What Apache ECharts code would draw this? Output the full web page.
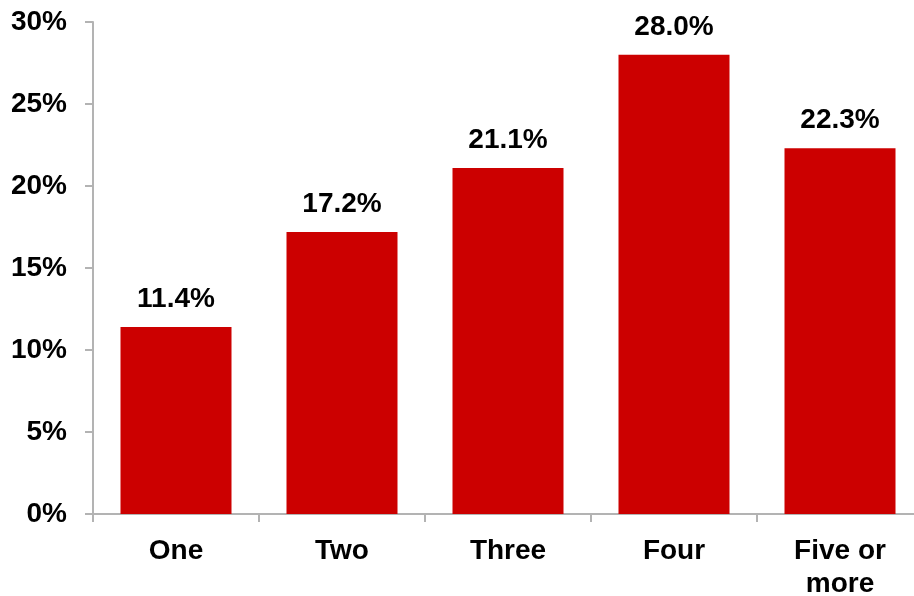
<!DOCTYPE html>
<html lang="en">
<head>
    <meta charset="UTF-8">
    <title>Bar chart</title>
    <script src="https://cdn.jsdelivr.net/npm/echarts@6/dist/echarts.min.js"></script>
    <style>
        html, body { margin: 0; padding: 0; background: #fff; }
        #chart { width: 914px; height: 596px; }
    </style>
</head>
<body>
    <div id="chart"></div>
    <script>
        // data
        var categories = ['One', 'Two', 'Three', 'Four', 'Five or\nmore'];
        var shares = [11.4, 17.2, 21.1, 28.0, 22.3];
        var yTicks = [0, 5, 10, 15, 20, 25, 30];

        var axisGrey = '#b3b3b3';
        var font = 'Liberation Sans, Arial, sans-serif';

        var myChart = echarts.init(document.getElementById('chart'));

        var option = {
            animation: false,
            grid: {
                left: 93, top: 22, width: 830, bottom: 82,
                containLabel: false, outerBoundsMode: 'none'
            },
            xAxis: {
                type: 'category',
                data: categories,
                axisLine: { lineStyle: { color: axisGrey, width: 2 } },
                axisTick: { show: true, length: 8, lineStyle: { color: axisGrey, width: 2 } },
                axisLabel: {
                    color: '#000', fontFamily: font, fontWeight: 'bold', fontSize: 28,
                    margin: 21, lineHeight: 33, interval: 0
                }
            },
            yAxis: {
                type: 'value',
                min: yTicks[0],
                max: yTicks[yTicks.length - 1],
                interval: 5,
                splitLine: { show: false },
                axisLine: { show: true, lineStyle: { color: axisGrey, width: 2 } },
                axisTick: { show: true, length: 8, lineStyle: { color: axisGrey, width: 2 } },
                axisLabel: {
                    color: '#000', fontFamily: font, fontWeight: 'bold', fontSize: 28,
                    margin: 26,
                    formatter: function (v) { return v + '%'; }
                }
            },
            series: [{
                type: 'bar',
                data: shares,
                barWidth: 111,
                itemStyle: { color: '#cc0000' },
                label: {
                    show: true,
                    position: 'top',
                    distance: 14,
                    color: '#000', fontFamily: font, fontWeight: 'bold', fontSize: 28,
                    formatter: function (p) { return p.value.toFixed(1) + '%'; }
                }
            }]
        };

        myChart.setOption(option);
    </script>
</body>
</html>
